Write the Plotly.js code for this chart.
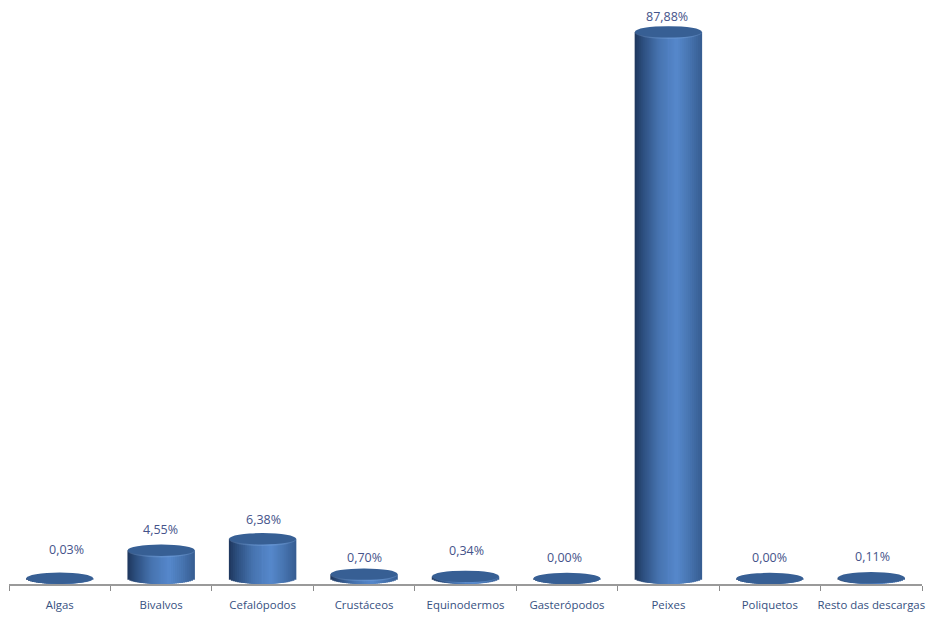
<!DOCTYPE html>
<html><head><meta charset="utf-8">
<script src="https://cdn.plot.ly/plotly-3.0.1.min.js"></script>
<style>html,body{margin:0;padding:0;background:#fff}#c{width:937px;height:617px}</style>
</head><body><div id="c"></div>
<script>
const categories = ["Algas","Bivalvos","Cefalópodos","Crustáceos","Equinodermos","Gasterópodos","Peixes","Poliquetos","Resto das descargas"];
const values = [0.03,4.55,6.38,0.70,0.34,0.00,87.88,0.00,0.11];
const labels = ["0,03%","4,55%","6,38%","0,70%","0,34%","0,00%","87,88%","0,00%","0,11%"];
const labelShiftX = [6.5,-1,1,0,1,-2,-1,0,1];
const labelShiftY = [29,21,19,17,26,21,15,21,21];

const W=937,H=617,axisY=584,pxPerUnit=6.22,zeroY=578.5;
const bottomDepth=(axisY-zeroY)/pxPerUnit;
const barW=0.665,N=34;
const stops=[[0,[30,54,92]],[0.12,[44,78,126]],[0.35,[70,115,175]],[0.62,[86,136,204]],[0.8,[72,118,178]],[1,[54,92,145]]];
function col(t){for(let i=1;i<stops.length;i++){if(t<=stops[i][0]){const a=stops[i-1],b=stops[i],f=(t-a[0])/(b[0]-a[0]);
  return 'rgb('+a[1].map((v,k)=>Math.round(v+(b[1][k]-v)*f)).join(',')+')';}}return 'rgb(54,92,145)';}
const traces=[];
function strip(s){
  const t=(s+0.5)/N,u=2*t-1,b=-bottomDepth*Math.sqrt(1-u*u),left=s<N/2;
  const off=left?-barW/2+s*barW/N:0;
  const wid=left?(N/2-s)*barW/N:(s+1-N/2)*barW/N;
  traces.push({type:'bar',x:categories,y:values.map(v=>v-b),base:categories.map(()=>b),
    width:wid,offset:off,marker:{color:col(t),line:{width:0}},hoverinfo:'skip',showlegend:false});
}
for(let s=0;s<N/2;s++)strip(s);
for(let s=N-1;s>=N/2;s--)strip(s);
const shapes=[];
categories.forEach((c,i)=>{
  if(values[i]>=0.3){const rim=values[i]>=0.5?-7.2:-6.3;
    shapes.push({type:'circle',xref:'x',yref:'y',xsizemode:'pixel',ysizemode:'pixel',xanchor:c,yanchor:values[i],
    x0:-33.5,x1:33.5,y0:rim,y1:5.7,fillcolor:'rgba(140,180,230,0.28)',line:{width:0},layer:'above'});}
  shapes.push({type:'circle',xref:'x',yref:'y',xsizemode:'pixel',ysizemode:'pixel',xanchor:c,yanchor:values[i],
    x0:-33.5,x1:33.5,y0:-5.7,y1:5.7,fillcolor:'#375f94',line:{width:0},layer:'above'});
});
const annotations=categories.map((c,i)=>({x:c,y:values[i],xref:'x',yref:'y',text:labels[i],showarrow:false,
  xshift:labelShiftX[i],yshift:labelShiftY[i],font:{family:'"Open Sans",sans-serif',size:12.5,color:'#45538a'}}));
const layout={width:W,height:H,paper_bgcolor:'#fff',plot_bgcolor:'#fff',showlegend:false,barmode:'overlay',
  margin:{l:9,r:15,t:0,b:H-axisY,pad:0},
  xaxis:{type:'category',categoryorder:'array',categoryarray:categories,range:[-0.5,8.5],tickson:'boundaries',ticks:'outside',ticklen:5,tickwidth:1,tickcolor:'#8c8c8c',
    showline:true,linecolor:'#9a9a9a',linewidth:2,showgrid:false,zeroline:false,tickangle:0,ticklabelstandoff:9,
    tickfont:{family:'"Open Sans",sans-serif',size:11.4,color:'#36507f'}},
  yaxis:{range:[-bottomDepth,zeroY/pxPerUnit],visible:false,showgrid:false,zeroline:false,fixedrange:true},
  shapes,annotations};
Plotly.newPlot('c',traces,layout,{displayModeBar:false,staticPlot:true});
</script></body></html>
